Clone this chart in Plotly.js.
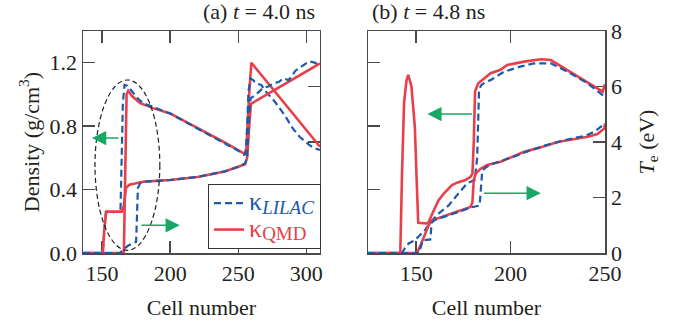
<!DOCTYPE html>
<html>
<head>
<meta charset="utf-8">
<script src="https://cdn.plot.ly/plotly-3.0.1.min.js"></script>
<style>html,body{margin:0;padding:0;background:#fff;}#chart{width:679px;height:322px;}</style>
</head>
<body>
<div id="chart"></div>
<script>
// ---------- Panel (a): t = 4.0 ns ----------
const aDensQmdX = [136, 166, 167, 168, 169.2, 172, 178, 188, 200, 222, 240, 254.7, 256, 258, 259.6, 310];
const aDensQmdY = [0, 0, 0.5, 1.0, 1.023, 0.99, 0.945, 0.912, 0.88, 0.78, 0.697, 0.625, 0.66, 1.0, 1.2, 0.67];

const aDensLilacX = [136, 150.5, 151.5, 152.8, 163.5, 164.3, 165.3, 166.5, 168.5, 172, 175, 180, 190, 200, 220, 240, 250, 254, 255.5, 256.5, 257.5, 259, 261, 263, 266.9, 270, 275.9, 284, 290, 295, 302.3, 306, 310];
const aDensLilacY = [0, 0, 0.12, 0.255, 0.26, 0.5, 0.95, 1.06, 1.055, 1.02, 0.985, 0.945, 0.91, 0.88, 0.785, 0.695, 0.645, 0.62, 0.625, 0.8, 1.02, 1.1, 1.09, 1.07, 1.06, 1.02, 0.965, 0.87, 0.786, 0.733, 0.68, 0.66, 0.65];

const aTeQmdX = [136, 150.5, 151.5, 153, 164.5, 166, 167.5, 170, 175, 180, 190, 200, 220, 240, 250, 255, 256.5, 258, 259.2, 310];
const aTeQmdY = [0, 0, 0.74, 1.49, 1.49, 1.71, 2.34, 2.46, 2.51, 2.57, 2.6, 2.63, 2.74, 2.94, 3.11, 3.2, 3.43, 4.57, 5.37, 6.83];

const aTeLilacX = [136, 163, 166, 169, 172, 175, 175.5, 176.3, 178, 180, 190, 200, 220, 240, 250, 255, 256.5, 257.5, 259, 263, 268, 272, 276, 280, 283, 287, 292, 297, 302, 306, 310];
const aTeLilacY = [0, 0, 0.14, 0.26, 0.34, 0.4, 1.14, 2.34, 2.51, 2.57, 2.6, 2.63, 2.74, 2.94, 3.11, 3.23, 3.43, 4.57, 5.57, 5.71, 5.94, 6.0, 6.11, 6.17, 6.29, 6.23, 6.57, 6.74, 6.91, 6.86, 6.77];

// ---------- Panel (b): t = 4.8 ns ----------
const bDensQmdX = [124.5, 141.6, 142.5, 143.6, 144.9, 145.8, 147.5, 148.5, 149.3, 150.2, 151.1, 155.5, 156.6, 159, 161.9, 165, 169, 172, 176.1, 178.8, 179.8, 180.5, 181.2, 182.9, 187.3, 189.4, 194.4, 198.3, 207.2, 216, 221.3, 228.4, 237.3, 246.2, 248.8, 250];
const bDensQmdY = [0, 0, 0.5, 0.95, 1.09, 1.123, 1.05, 0.93, 0.796, 0.48, 0.19, 0.186, 0.196, 0.26, 0.333, 0.38, 0.428, 0.445, 0.46, 0.48, 0.5, 0.7, 1.02, 1.07, 1.11, 1.134, 1.154, 1.186, 1.207, 1.222, 1.217, 1.165, 1.10, 1.038, 1.017, 1.065];

const bDensLilacX = [124.5, 142.5, 144, 146, 148.6, 151, 155, 158, 162, 167.2, 172, 177, 181, 182.3, 183.3, 184.5, 187, 189.4, 196.5, 205, 212.4, 221.3, 230.2, 240.8, 250];
const bDensLilacY = [0, 0, 0.03, 0.06, 0.076, 0.1, 0.15, 0.2, 0.25, 0.30, 0.37, 0.44, 0.46, 0.6, 1.03, 1.06, 1.08, 1.09, 1.143, 1.175, 1.196, 1.196, 1.143, 1.07, 0.985];

const bTeQmdX = [124.5, 150.4, 152, 153.9, 156.6, 158.4, 163.7, 169, 174.3, 178.8, 179.8, 180.5, 181.5, 184, 187.6, 194.7, 207.2, 214, 225, 240.8, 246, 249.7, 250];
const bTeQmdY = [0, 0, 0.23, 0.58, 1.0, 1.18, 1.3, 1.42, 1.54, 1.66, 1.83, 2.63, 2.86, 3.03, 3.17, 3.29, 3.65, 3.77, 4.0, 4.19, 4.29, 4.49, 4.67];

const bTeLilacX = [124.5, 151.5, 153.5, 157.5, 158.2, 160, 165, 170, 175, 180, 183.6, 184.3, 185, 187, 190, 200, 210, 220, 230, 240, 245, 250];
const bTeLilacY = [0, 0, 0.46, 0.49, 1.09, 1.2, 1.31, 1.43, 1.54, 1.66, 1.71, 2.57, 2.97, 3.09, 3.2, 3.43, 3.69, 3.91, 4.09, 4.23, 4.4, 4.67];

// ticks and labels
const aXTicks = [150, 200, 250, 300];
const bXTicks = [150, 200, 250];
const densTicks = [0, 0.4, 0.8, 1.2];
const teTicks = [0, 2, 4, 6, 8];

const RED = '#e8404a';
const BLUE = '#1d5aa8';
const GREEN = '#17a865';
const AX = '#4a4a4a';
const TXT = '#231f20';
const FONT = '"Liberation Serif"';

function line(x, y, xa, ya, lilac, show) {
  return {
    x: x, y: y, xaxis: xa, yaxis: ya, type: 'scatter', mode: 'lines',
    line: lilac ? {color: BLUE, width: 2.2, dash: '7px,4px'} : {color: RED, width: 2.6},
    name: lilac ? '<span style="font-size:26px">κ</span><sub><span style="font-size:19px"><i>LILAC</i></span></sub>'
                : '<span style="font-size:26px">κ</span><sub><span style="font-size:19px">QMD</span></sub>',
    legendgroup: lilac ? 'lilac' : 'qmd',
    legendrank: lilac ? 1 : 2,
    showlegend: show, hoverinfo: 'skip'
  };
}

const data = [
  line(aDensQmdX, aDensQmdY, 'x', 'y', false, true),
  line(aTeQmdX, aTeQmdY, 'x', 'y2', false, false),
  line(bDensQmdX, bDensQmdY, 'x2', 'y3', false, false),
  line(bTeQmdX, bTeQmdY, 'x2', 'y4', false, false),
  line(aDensLilacX, aDensLilacY, 'x', 'y', true, true),
  line(aTeLilacX, aTeLilacY, 'x', 'y2', true, false),
  line(bDensLilacX, bDensLilacY, 'x2', 'y3', true, false),
  line(bTeLilacX, bTeLilacY, 'x2', 'y4', true, false)
];

const axBase = {
  showline: true, linecolor: AX, linewidth: 1.5, ticks: 'inside', ticklen: 12,
  tickwidth: 1.5, tickcolor: AX, showgrid: false, zeroline: false,
  tickfont: {family: FONT, size: 22, color: TXT}, layer: 'below traces'
};

function arrow(xr, yr, xHead, xTail, y) {
  return {xref: xr, yref: yr, axref: xr, ayref: yr, x: xHead, y: y, ax: xTail, ay: y,
          text: '', showarrow: true, arrowhead: 2, arrowsize: 1.9, arrowwidth: 1.5,
          arrowcolor: GREEN, standoff: 0, startstandoff: 0};
}

const layout = {
  width: 679, height: 322,
  margin: {l: 83, r: 74, t: 31, b: 69},
  paper_bgcolor: '#fff', plot_bgcolor: '#fff',
  font: {family: FONT, size: 22, color: TXT},
  showlegend: true,
  legend: {x: 0.2395, y: 0.311, xref: 'paper', yref: 'paper', xanchor: 'left', yanchor: 'top',
           bgcolor: '#fff', bordercolor: '#333', borderwidth: 1,
           font: {family: FONT, size: 18, color: TXT}, tracegroupgap: 0, itemwidth: 30},
  xaxis: Object.assign({}, axBase, {domain: [0, 0.454], range: [136, 310], tickvals: aXTicks,
          mirror: 'ticks', anchor: 'y',
          title: {text: 'Cell number', standoff: 14, font: {family: FONT, size: 22, color: TXT}}}),
  yaxis: Object.assign({}, axBase, {domain: [0, 1], range: [0, 1.4], tickvals: densTicks,
          tickformat: '.1f', anchor: 'x',
          title: {text: 'Density (g/cm<sup>3</sup>)', standoff: 4, font: {family: FONT, size: 22, color: TXT}}}),
  yaxis2: Object.assign({}, axBase, {overlaying: 'y', side: 'right', anchor: 'x', range: [0, 8],
          tickvals: teTicks, showticklabels: false}),
  xaxis2: Object.assign({}, axBase, {domain: [0.546, 1], range: [124.5, 250], tickvals: bXTicks,
          mirror: 'ticks', anchor: 'y3',
          title: {text: 'Cell number', standoff: 14, font: {family: FONT, size: 22, color: TXT}}}),
  yaxis3: Object.assign({}, axBase, {domain: [0, 1], range: [0, 1.4], tickvals: densTicks,
          showticklabels: false, anchor: 'x2'}),
  yaxis4: Object.assign({}, axBase, {overlaying: 'y3', side: 'right', anchor: 'x2', range: [0, 8],
          tickvals: teTicks,
          title: {text: '<i>T</i><sub>e</sub> (eV)', standoff: 17, font: {family: FONT, size: 22, color: TXT}}}),
  shapes: [
    {type: 'circle', xref: 'x', yref: 'y', x0: 144.8, x1: 192.4, y0: 0.017, y1: 1.091,
     line: {color: '#222', width: 1.2, dash: '5px,3px'}}
  ],
  annotations: [
    {xref: 'paper', yref: 'paper', x: 0.227, y: 1, yanchor: 'middle', yshift: 20, showarrow: false,
     text: '(a) <i>t</i> = 4.0 ns', font: {family: FONT, size: 22, color: TXT}},
    {xref: 'paper', yref: 'paper', x: 0.773, y: 1, yanchor: 'middle', yshift: 20, showarrow: false,
     text: '(b) <i>t</i> = 4.8 ns', font: {family: FONT, size: 22, color: TXT}},
    arrow('x', 'y', 142.6, 163.1, 0.725),
    arrow('x', 'y', 207.1, 177.8, 0.175),
    arrow('x2', 'y3', 155.9, 180.4, 0.876),
    arrow('x2', 'y3', 216.0, 185.1, 0.377)
  ]
};

Plotly.newPlot('chart', data, layout, {displayModeBar: false, staticPlot: true}).then(function () {
  // colour each legend label like its line
  const texts = document.querySelectorAll('.legend .legendtext');
  texts.forEach(function (t) {
    const isLilac = t.textContent.indexOf('LILAC') >= 0;
    t.style.fill = isLilac ? BLUE : RED;
    t.querySelectorAll('tspan').forEach(function (s) { s.style.fill = isLilac ? BLUE : RED; });
  });
});
</script>
</body>
</html>
